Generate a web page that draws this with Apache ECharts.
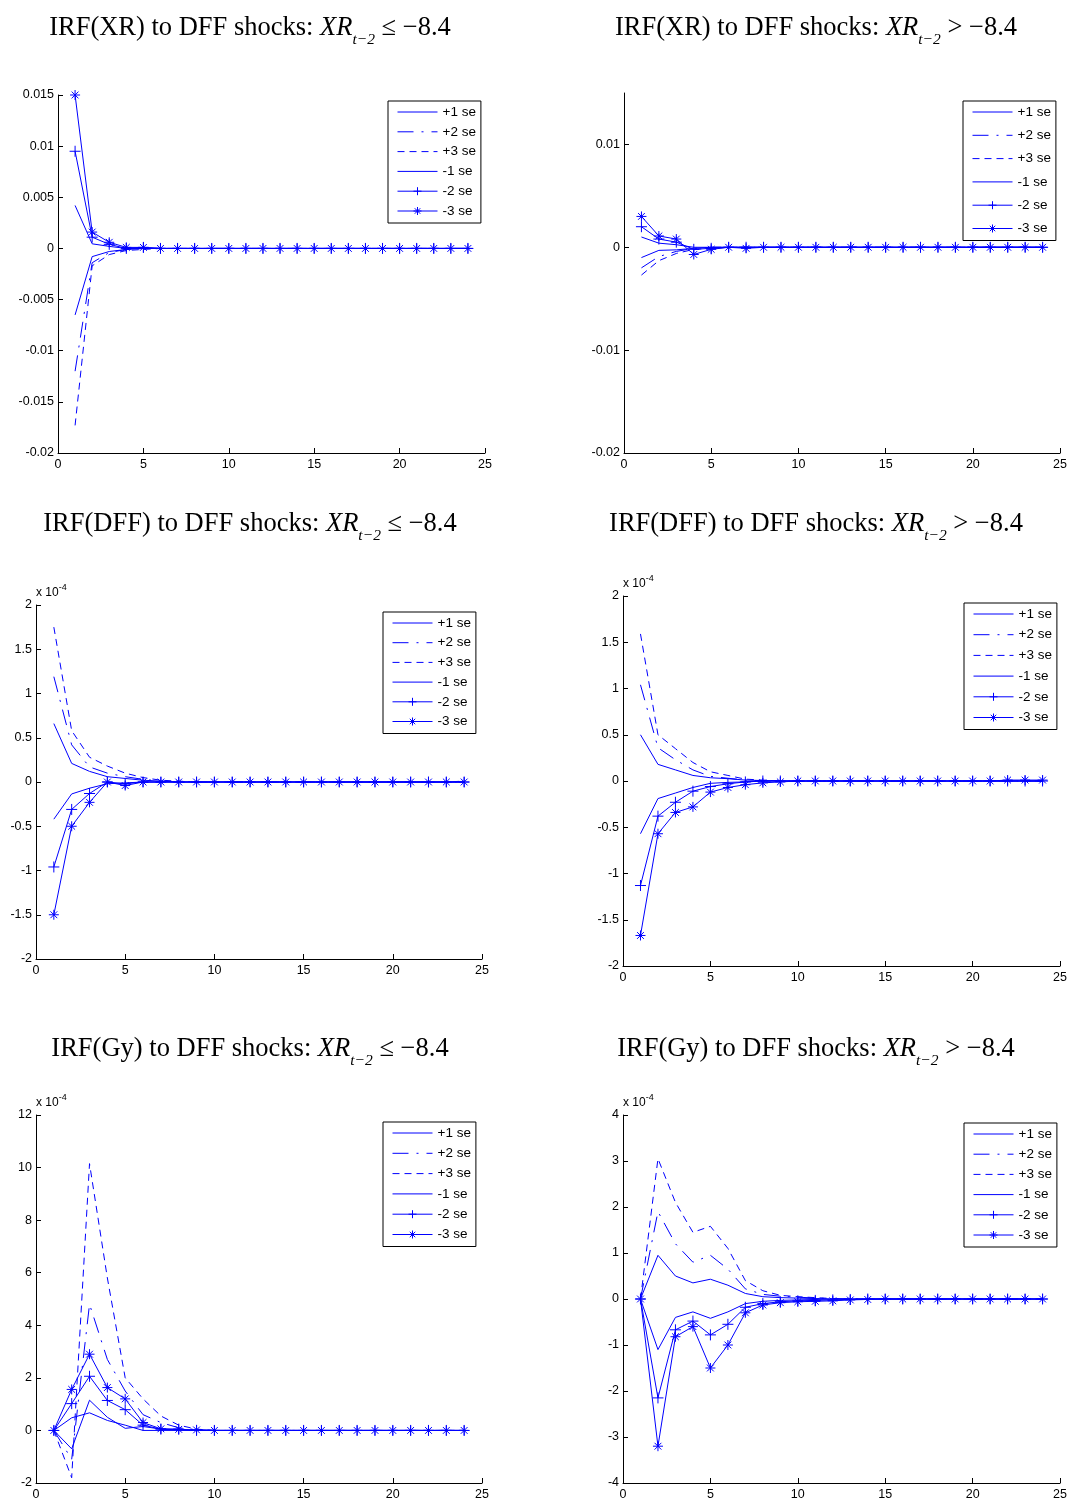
<!DOCTYPE html>
<html>
<head>
<meta charset="utf-8">
<script src="https://cdn.jsdelivr.net/npm/echarts@6/dist/echarts.min.js"></script>
<style>
  html, body { margin: 0; padding: 0; background: #fff; }
  #chart { width: 1070px; height: 1502px; }
</style>
</head>
<body>
<div id="chart"></div>
<script>
// ---------------- DATA ----------------
const periods = [1,2,3,4,5,6,7,8,9,10,11,12,13,14,15,16,17,18,19,20,21,22,23,24];
const seriesNames = ['+1 se', '+2 se', '+3 se', '-1 se', '-2 se', '-3 se'];

// Panel 1: IRF(XR), XR_{t-2} <= -8.4
const xrLe_p1 = [-0.0065,-0.0008,-0.0003,-0.0001,0,0,0,0,0,0,0,0,0,0,0,0,0,0,0,0,0,0,0,0];
const xrLe_p2 = [-0.012,-0.0014,-0.0004,-0.0001,0,0,0,0,0,0,0,0,0,0,0,0,0,0,0,0,0,0,0,0];
const xrLe_p3 = [-0.0173,-0.0017,-0.0006,-0.0002,-0.0001,0,0,0,0,0,0,0,0,0,0,0,0,0,0,0,0,0,0,0];
const xrLe_m1 = [0.0042,0.00045,0.0002,0,0,0,0,0,0,0,0,0,0,0,0,0,0,0,0,0,0,0,0,0];
const xrLe_m2 = [0.0095,0.0011,0.0004,0,0.0001,0,0,0,0,0,0,0,0,0,0,0,0,0,0,0,0,0,0,0];
const xrLe_m3 = [0.015,0.0016,0.0006,0.0001,0.0001,0,0,0,0,0,0,0,0,0,0,0,0,0,0,0,0,0,0,0];

// Panel 2: IRF(XR), XR_{t-2} > -8.4
const xrGt_p1 = [-0.001,-0.0003,-0.00025,-0.0001,0,0,0,0,0,0,0,0,0,0,0,0,0,0,0,0,0,0,0,0];
const xrGt_p2 = [-0.002,-0.0009,-0.0004,-0.0001,0,0,0,0,0,0,0,0,0,0,0,0,0,0,0,0,0,0,0,0];
const xrGt_p3 = [-0.0027,-0.0013,-0.0006,-0.0002,-0.0001,0,0,0,0,0,0,0,0,0,0,0,0,0,0,0,0,0,0,0];
const xrGt_m1 = [0.001,0.0004,0.00025,0,0,0,0,0,0,0,0,0,0,0,0,0,0,0,0,0,0,0,0,0];
const xrGt_m2 = [0.002,0.0008,0.0005,-0.0002,-0.0001,0,0,0,0,0,0,0,0,0,0,0,0,0,0,0,0,0,0,0];
const xrGt_m3 = [0.003,0.0011,0.0008,-0.0007,-0.0002,0,-0.0001,0,0,0,0,0,0,0,0,0,0,0,0,0,0,0,0,0];

// Panel 3: IRF(DFF), XR <= -8.4   (units of 1e-4)
const dffLe_p1 = [0.66,0.21,0.12,0.06,0.04,0.02,0.01,0,0,0,0,0,0,0,0,0,0,0,0,0,0,0,0,0];
const dffLe_p2 = [1.19,0.42,0.17,0.1,0.06,0.03,0.01,0,0,0,0,0,0,0,0,0,0,0,0,0,0,0,0,0];
const dffLe_p3 = [1.75,0.58,0.28,0.18,0.1,0.05,0.02,0.01,0,0,0,0,0,0,0,0,0,0,0,0,0,0,0,0.01];
const dffLe_m1 = [-0.42,-0.135,-0.07,-0.02,-0.01,0,0,0,0,0,0,0,0,0,0,0,0,0,0,0,0,0,0,0];
const dffLe_m2 = [-0.96,-0.31,-0.13,0,-0.02,0,0,0,0,0,0,0,0,0,0,0,0,0,0,0,0,0,0,0];
const dffLe_m3 = [-1.5,-0.5,-0.23,0,-0.04,0,0,0,0,0,0,0,0,0,0,0,0,0,0,0,0,0,0,0];

// Panel 4: IRF(DFF), XR > -8.4   (units of 1e-4)
const dffGt_p1 = [0.5,0.18,0.12,0.06,0.035,0.025,0.01,0.005,0,0,0,0,0,0,0,0,0,0,0,0,0,0,0,0];
const dffGt_p2 = [1.04,0.36,0.23,0.12,0.05,0.03,0.01,0,0,0,0,0,0,0,0,0,0,0,0,0,0,0,0,0];
const dffGt_p3 = [1.59,0.5,0.35,0.2,0.1,0.06,0.02,0.01,0,0,0,0,0,0,0,0,0,0,0,0,0,0,0,0];
const dffGt_m1 = [-0.57,-0.19,-0.13,-0.07,-0.025,-0.015,-0.01,0,0,0,0,0,0,0,0,0,0,0,0,0,0,0,0,0];
const dffGt_m2 = [-1.13,-0.38,-0.23,-0.11,-0.06,-0.03,-0.01,0,0,0,0,0,0,0,0,0,0,0,0,0,0,0,0,0];
const dffGt_m3 = [-1.67,-0.57,-0.34,-0.28,-0.12,-0.07,-0.04,-0.02,-0.01,0,0,0,0,0,0,0,0,0,0,0,0,0.01,0.01,0.01];

// Panel 5: IRF(Gy), XR <= -8.4   (units of 1e-4)
const gyLe_p1 = [0,-0.7,1.15,0.5,0.08,0.15,0.05,0.02,0,0,0,0,0,0,0,0,0,0,0,0,0,0,0,0];
const gyLe_p2 = [0,-1.1,4.8,2.7,1.5,0.6,0.3,0.1,0.03,0,0,0,0,0,0,0,0,0,0,0,0,0,0,0];
const gyLe_p3 = [0,-1.8,10.15,5.8,2.0,1.2,0.55,0.2,0.05,0,0,0,0,0,0,0,0,0,0,0,0,0,0,0];
const gyLe_m1 = [0,0.48,0.67,0.38,0.2,0,0,0,0,0,0,0,0,0,0,0,0,0,0,0,0,0,0,0];
const gyLe_m2 = [0,1.02,2.06,1.14,0.79,0.2,0.05,0.05,0,0,0,0,0,0,0,0,0,0,0,0,0,0,0,0];
const gyLe_m3 = [0,1.56,2.9,1.63,1.2,0.3,0.06,0.04,0.02,0,0,0,0,0,0,0,0,0,0,0,0,0,0,0];

// Panel 6: IRF(Gy), XR > -8.4   (units of 1e-4)
const gyGt_p1 = [0,0.95,0.5,0.35,0.43,0.3,0.12,0.05,0.03,0.02,0.01,0,0,0,0,0,0,0,0,0,0,0,0,0];
const gyGt_p2 = [0,1.9,1.2,0.8,0.95,0.65,0.22,0.1,0.06,0.04,0.02,0.01,0,0,0,0,0,0,0,0,0,0,0,0];
const gyGt_p3 = [0,3.05,2.1,1.45,1.58,1.1,0.4,0.18,0.08,0.05,0.03,0.01,0,0,0,0,0,0,0,0,0,0,0,0];
const gyGt_m1 = [0,-1.1,-0.4,-0.28,-0.42,-0.28,-0.1,-0.05,-0.03,-0.02,-0.01,0,0,0,0,0,0,0,0,0,0,0,0,0];
const gyGt_m2 = [0,-2.15,-0.67,-0.48,-0.78,-0.55,-0.18,-0.1,-0.06,-0.04,-0.03,-0.02,-0.01,0,0,0,0,0,0,0,0,0,0,0];
const gyGt_m3 = [0,-3.2,-0.82,-0.6,-1.5,-1.0,-0.3,-0.13,-0.08,-0.06,-0.05,-0.04,-0.02,-0.01,0,0,0,0,0,0,0,0,0,0];

// Titles: [variable, comparison]
const titleVars = ['XR', 'XR', 'DFF', 'DFF', 'Gy', 'Gy'];
const titleOps = ['\u2264', '>', '\u2264', '>', '\u2264', '>'];
const threshold = '\u22128.4';

// Y-axis ranges / ticks per panel
const yMin = [-0.02, -0.02, -2, -2, -2, -4];
const yMax = [0.015, 0.015, 2, 2, 12, 4];
const yInterval = [0.005, 0.01, 0.5, 0.5, 2, 1];
const yTicks2 = [-0.02, -0.01, 0, 0.01];
const yExponent = [null, null, '-4', '-4', '-4', '-4'];
const xTicksMax = 25;

const panelData = [
  [xrLe_p1, xrLe_p2, xrLe_p3, xrLe_m1, xrLe_m2, xrLe_m3],
  [xrGt_p1, xrGt_p2, xrGt_p3, xrGt_m1, xrGt_m2, xrGt_m3],
  [dffLe_p1, dffLe_p2, dffLe_p3, dffLe_m1, dffLe_m2, dffLe_m3],
  [dffGt_p1, dffGt_p2, dffGt_p3, dffGt_m1, dffGt_m2, dffGt_m3],
  [gyLe_p1, gyLe_p2, gyLe_p3, gyLe_m1, gyLe_m2, gyLe_m3],
  [gyGt_p1, gyGt_p2, gyGt_p3, gyGt_m1, gyGt_m2, gyGt_m3]
];

// ---------------- LAYOUT / STYLE ----------------
const BLUE = '#0000ff';
const grids = [
  { left: 58,  top: 95,   width: 427, height: 358 },
  { left: 624, top: 93,   width: 437, height: 360 },
  { left: 36,  top: 605,  width: 446, height: 354 },
  { left: 623, top: 596,  width: 438, height: 370 },
  { left: 36,  top: 1115, width: 446, height: 368 },
  { left: 623, top: 1115, width: 438, height: 368 }
];
const titlePos = [[250, 28], [816, 28], [250, 524], [816, 524], [250, 1049], [816, 1049]];
const legendPos = [
  { left: 388, top: 101, gap: 5.8 },
  { left: 963, top: 101, gap: 9.3 },
  { left: 383, top: 612, gap: 5.7 },
  { left: 964, top: 603, gap: 6.7 },
  { left: 383, top: 1122, gap: 6.3 },
  { left: 964, top: 1123, gap: 6.2 }
];

const PLUS = 'path://M5,0L5,10M0,5L10,5';
const STAR = 'path://M5,0L5,10M0,5L10,5M1.6,1.6L8.4,8.4M8.4,1.6L1.6,8.4';
const styles = [
  { type: 'solid', symbol: null },
  { type: [16, 8, 2, 8], symbol: null },
  { type: [7, 5], symbol: null },
  { type: 'solid', symbol: null },
  { type: 'solid', symbol: PLUS, size: 11 },
  { type: 'solid', symbol: STAR, size: 10 }
];

const sans = '"Liberation Sans", Arial, sans-serif';
const labelFont = { color: '#000', fontSize: 12.5, fontFamily: sans };
const serif = '"Liberation Serif", "Times New Roman", serif';

const legendItems = seriesNames.map((n, si) => ({
  name: n,
  lineStyle: { color: BLUE, width: 1, type: styles[si].type },
  itemStyle: { color: 'rgba(0,0,0,0)', borderColor: styles[si].symbol ? BLUE : 'rgba(0,0,0,0)', borderWidth: styles[si].symbol ? 1 : 0 }
}));

const option = {
  animation: false,
  backgroundColor: '#fff',
  grid: grids.map(g => Object.assign({ containLabel: false }, g)),
  xAxis: grids.map((g, i) => ({
    type: 'value', gridIndex: i, min: 0, max: xTicksMax, interval: 5,
    axisLine: { onZero: false, lineStyle: { color: '#000', width: 1 } },
    axisTick: { inside: true, length: 5, lineStyle: { color: '#000' } },
    axisLabel: Object.assign({ margin: 5 }, labelFont),
    splitLine: { show: false }
  })),
  yAxis: grids.map((g, i) => {
    const ax = {
      type: 'value', gridIndex: i, min: yMin[i], max: yMax[i], interval: yInterval[i],
      axisLine: { show: true, onZero: false, lineStyle: { color: '#000', width: 1 } },
      axisTick: { show: true, inside: true, length: 5, lineStyle: { color: '#000' } },
      axisLabel: Object.assign({ margin: 4 }, labelFont),
      splitLine: { show: false }
    };
    if (i === 1) {
      ax.axisTick.customValues = yTicks2;
      ax.axisLabel.customValues = yTicks2;
    }
    if (yExponent[i]) {
      ax.name = '{a|x 10}{b|' + yExponent[i] + '}';
      ax.nameLocation = 'end';
      ax.nameGap = 4;
      ax.nameTextStyle = {
        align: 'left', verticalAlign: 'bottom',
        rich: {
          a: { fontSize: 12, fontFamily: sans, color: '#000', lineHeight: 16 },
          b: { fontSize: 9, fontFamily: sans, color: '#000', lineHeight: 16, padding: [0, 0, 10, 0] }
        }
      };
    }
    return ax;
  }),
  legend: legendPos.map((lp, i) => ({
    orient: 'vertical', left: lp.left, top: lp.top,
    data: legendItems.map(d => Object.assign({}, d)),
    itemWidth: 40, itemHeight: 10, itemGap: lp.gap,
    padding: [4, 5, 5, 9],
    backgroundColor: '#fff', borderColor: '#000', borderWidth: 1,
    textStyle: { color: '#000', fontSize: 13.5, fontFamily: sans },
    selectedMode: false, z: 10
  })),
  graphic: titlePos.map((p, i) => ({
    type: 'text', x: p[0], y: p[1], z: 10,
    style: {
      text: 'IRF(' + titleVars[i] + ') to DFF shocks: {i|XR}{s|t\u22122}{n| ' + titleOps[i] + ' ' + threshold + '}',
      font: '26.5px ' + serif, fill: '#000', align: 'center', verticalAlign: 'middle',
      rich: {
        i: { fontSize: 26.5, fontStyle: 'italic', fontFamily: serif, lineHeight: 32, fill: '#000' },
        s: { fontSize: 15.5, fontStyle: 'italic', fontFamily: serif, lineHeight: 32, padding: [24, 0, 0, 0], fill: '#000' },
        n: { fontSize: 26.5, fontFamily: serif, lineHeight: 32, fill: '#000' }
      }
    }
  })),
  series: []
};

panelData.forEach((arrs, pi) => {
  arrs.forEach((vals, si) => {
    const st = styles[si];
    const s = {
      name: seriesNames[si], type: 'line', xAxisIndex: pi, yAxisIndex: pi,
      data: periods.map((t, k) => [t, vals[k]]),
      lineStyle: { color: BLUE, width: 1, type: st.type },
      itemStyle: { color: 'rgba(0,0,0,0)', borderColor: BLUE, borderWidth: st.symbol ? 1 : 0 },
      emphasis: { disabled: true }, silent: true, z: 2
    };
    if (st.symbol) {
      s.symbol = st.symbol; s.symbolSize = st.size; s.showSymbol = true; s.showAllSymbol = true;
    } else {
      s.symbol = 'circle'; s.showSymbol = false;
    }
    option.series.push(s);
  });
});

const chart = echarts.init(document.getElementById('chart'), null, { renderer: 'canvas' });
chart.setOption(option);
</script>
</body>
</html>
